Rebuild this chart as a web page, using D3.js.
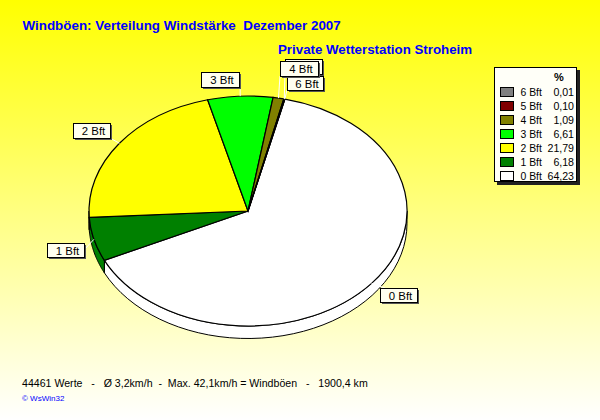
<!DOCTYPE html>
<html><head><meta charset="utf-8">
<script src="https://cdn.jsdelivr.net/npm/d3@7/dist/d3.min.js"></script>
<style>html,body{margin:0;padding:0;background:#fff}svg{display:block}text{font-family:"Liberation Sans",Arial,sans-serif}</style>
</head><body><div id="c"></div>
<script>
const categories=["0 Bft","1 Bft","2 Bft","3 Bft","4 Bft","5 Bft","6 Bft"];
const values=[64.23,6.18,21.79,6.61,1.09,0.10,0.01];
const valueLabels=["64,23","6,18","21,79","6,61","1,09","0,10","0,01"];
const colors=["#ffffff","#008000","#ffff00","#00ff00","#808000","#800000","#808080"];
const labelOrder=["0 Bft","1 Bft","2 Bft","3 Bft","6 Bft","5 Bft","4 Bft"];

const W=600,H=420,cx=248,cy=211,rx=159,ry=115,depth=12.5;
const svg=d3.select("#c").append("svg").attr("width",W).attr("height",H);
const g=svg.append("defs").append("linearGradient").attr("id","bg").attr("x1",0).attr("y1",0).attr("x2",0).attr("y2",1);
g.append("stop").attr("offset",0).attr("stop-color","#ffff00");
g.append("stop").attr("offset",1).attr("stop-color","#ffffff");
svg.append("rect").attr("width",W).attr("height",H).attr("fill","url(#bg)");

const startDeg=13.4;
const pie=d3.pie().sort(null).value(d=>d).startAngle(startDeg*Math.PI/180).endAngle((startDeg+360)*Math.PI/180);
const arcs=pie(values);
const pt=(a,dy=0)=>[cx+rx*Math.sin(a),cy-ry*Math.cos(a)+dy];

const line=d3.line();
const wall=svg.append("g");
arcs.forEach((d,i)=>{
  const a0=Math.max(d.startAngle,Math.PI/2),a1=Math.min(d.endAngle,3*Math.PI/2);
  if(a1<=a0)return;
  const top=d3.range(0,41).map(k=>pt(a0+(a1-a0)*k/40));
  const bot=top.map(p=>[p[0],p[1]+depth]).reverse();
  wall.append("path").attr("d",line(top.concat(bot))+"Z").attr("fill",colors[i]).attr("stroke","#000").attr("stroke-width",1);
});

const arc=d3.arc().innerRadius(0).outerRadius(rx);
const face=svg.append("g").attr("transform",`translate(${cx},${cy}) scale(1,${ry/rx})`);
face.selectAll("path").data(arcs).join("path")
  .attr("d",arc).attr("fill",(d,i)=>colors[i]).attr("stroke","#000").attr("stroke-width",1.2)
  .attr("vector-effect","non-scaling-stroke");

const boxes={"0 Bft":[380,288,37,14],"1 Bft":[47,243,37,14],"2 Bft":[73,123,37,15],"3 Bft":[201,72,38,15],"4 Bft":[280,61,38,15],"5 Bft":[285,59,37,15],"6 Bft":[287,76,36,14]};
const anchors={"0 Bft":[385,288],"1 Bft":[84,250],"2 Bft":[110,138],"3 Bft":[239,87],"4 Bft":[280,76],"5 Bft":[285,74],"6 Bft":[287,90]};
const lab=svg.append("g");
labelOrder.forEach(n=>{
  const i=categories.indexOf(n),mid=(arcs[i].startAngle+arcs[i].endAngle)/2,p=pt(mid),an=anchors[n];
  lab.append("line").attr("x1",p[0]).attr("y1",p[1]).attr("x2",n==="3 Bft"?p[0]:an[0]).attr("y2",an[1]).attr("stroke","#fff").attr("stroke-width",1);
});
labelOrder.forEach(n=>{
  const b=boxes[n];
  lab.append("rect").attr("x",b[0]+2).attr("y",b[1]+2).attr("width",b[2]).attr("height",b[3]).attr("fill","#555");
  lab.append("rect").attr("x",b[0]+.5).attr("y",b[1]+.5).attr("width",b[2]).attr("height",b[3]).attr("fill","#fffff0").attr("stroke","#000");
  if(n!=="5 Bft") lab.append("text").attr("x",b[0]+b[2]/2+2).attr("y",b[1]+b[3]/2+4.5).attr("text-anchor","middle").attr("font-size",11.4).attr("fill","#000").text(n);
});

svg.append("text").attr("x",22.5).attr("y",30).attr("font-size",13.4).attr("font-weight","bold").attr("fill","#0000ff").style("white-space","pre").text("Windböen: Verteilung Windstärke  Dezember 2007");
svg.append("text").attr("x",278).attr("y",54).attr("font-size",13.3).attr("font-weight","bold").attr("fill","#0000ff").text("Private Wetterstation Stroheim");

const lg=svg.append("g");
lg.append("rect").attr("x",497).attr("y",70).attr("width",83).attr("height",115).attr("fill","#222");
lg.append("rect").attr("x",494.5).attr("y",67.5).attr("width",82).attr("height",114).attr("fill","#fffff8").attr("stroke","#000");
lg.append("text").attr("x",559).attr("y",81).attr("text-anchor","middle").attr("font-size",11).attr("font-weight","bold").text("%");
const yRow=d3.scalePoint().domain(d3.range(values.length)).range([176,92]);
categories.forEach((n,i)=>{
  const y=yRow(i);
  lg.append("rect").attr("x",500.5).attr("y",y-4.5).attr("width",13).attr("height",9).attr("fill",colors[i]).attr("stroke","#000");
  lg.append("text").attr("x",520.5).attr("y",y+4).attr("font-size",10.4).text(n);
  lg.append("text").attr("x",574).attr("y",y+4).attr("text-anchor","end").attr("font-size",10.6).text(valueLabels[i]);
});

svg.append("text").attr("x",22).attr("y",387).attr("font-size",10.6).style("white-space","pre").text("44461 Werte   -   Ø 3,2km/h  -  Max. 42,1km/h = Windböen   -   1900,4 km");
svg.append("text").attr("x",22).attr("y",401).attr("font-size",8).attr("fill","#0000ff").text("© WsWin32");
</script></body></html>
